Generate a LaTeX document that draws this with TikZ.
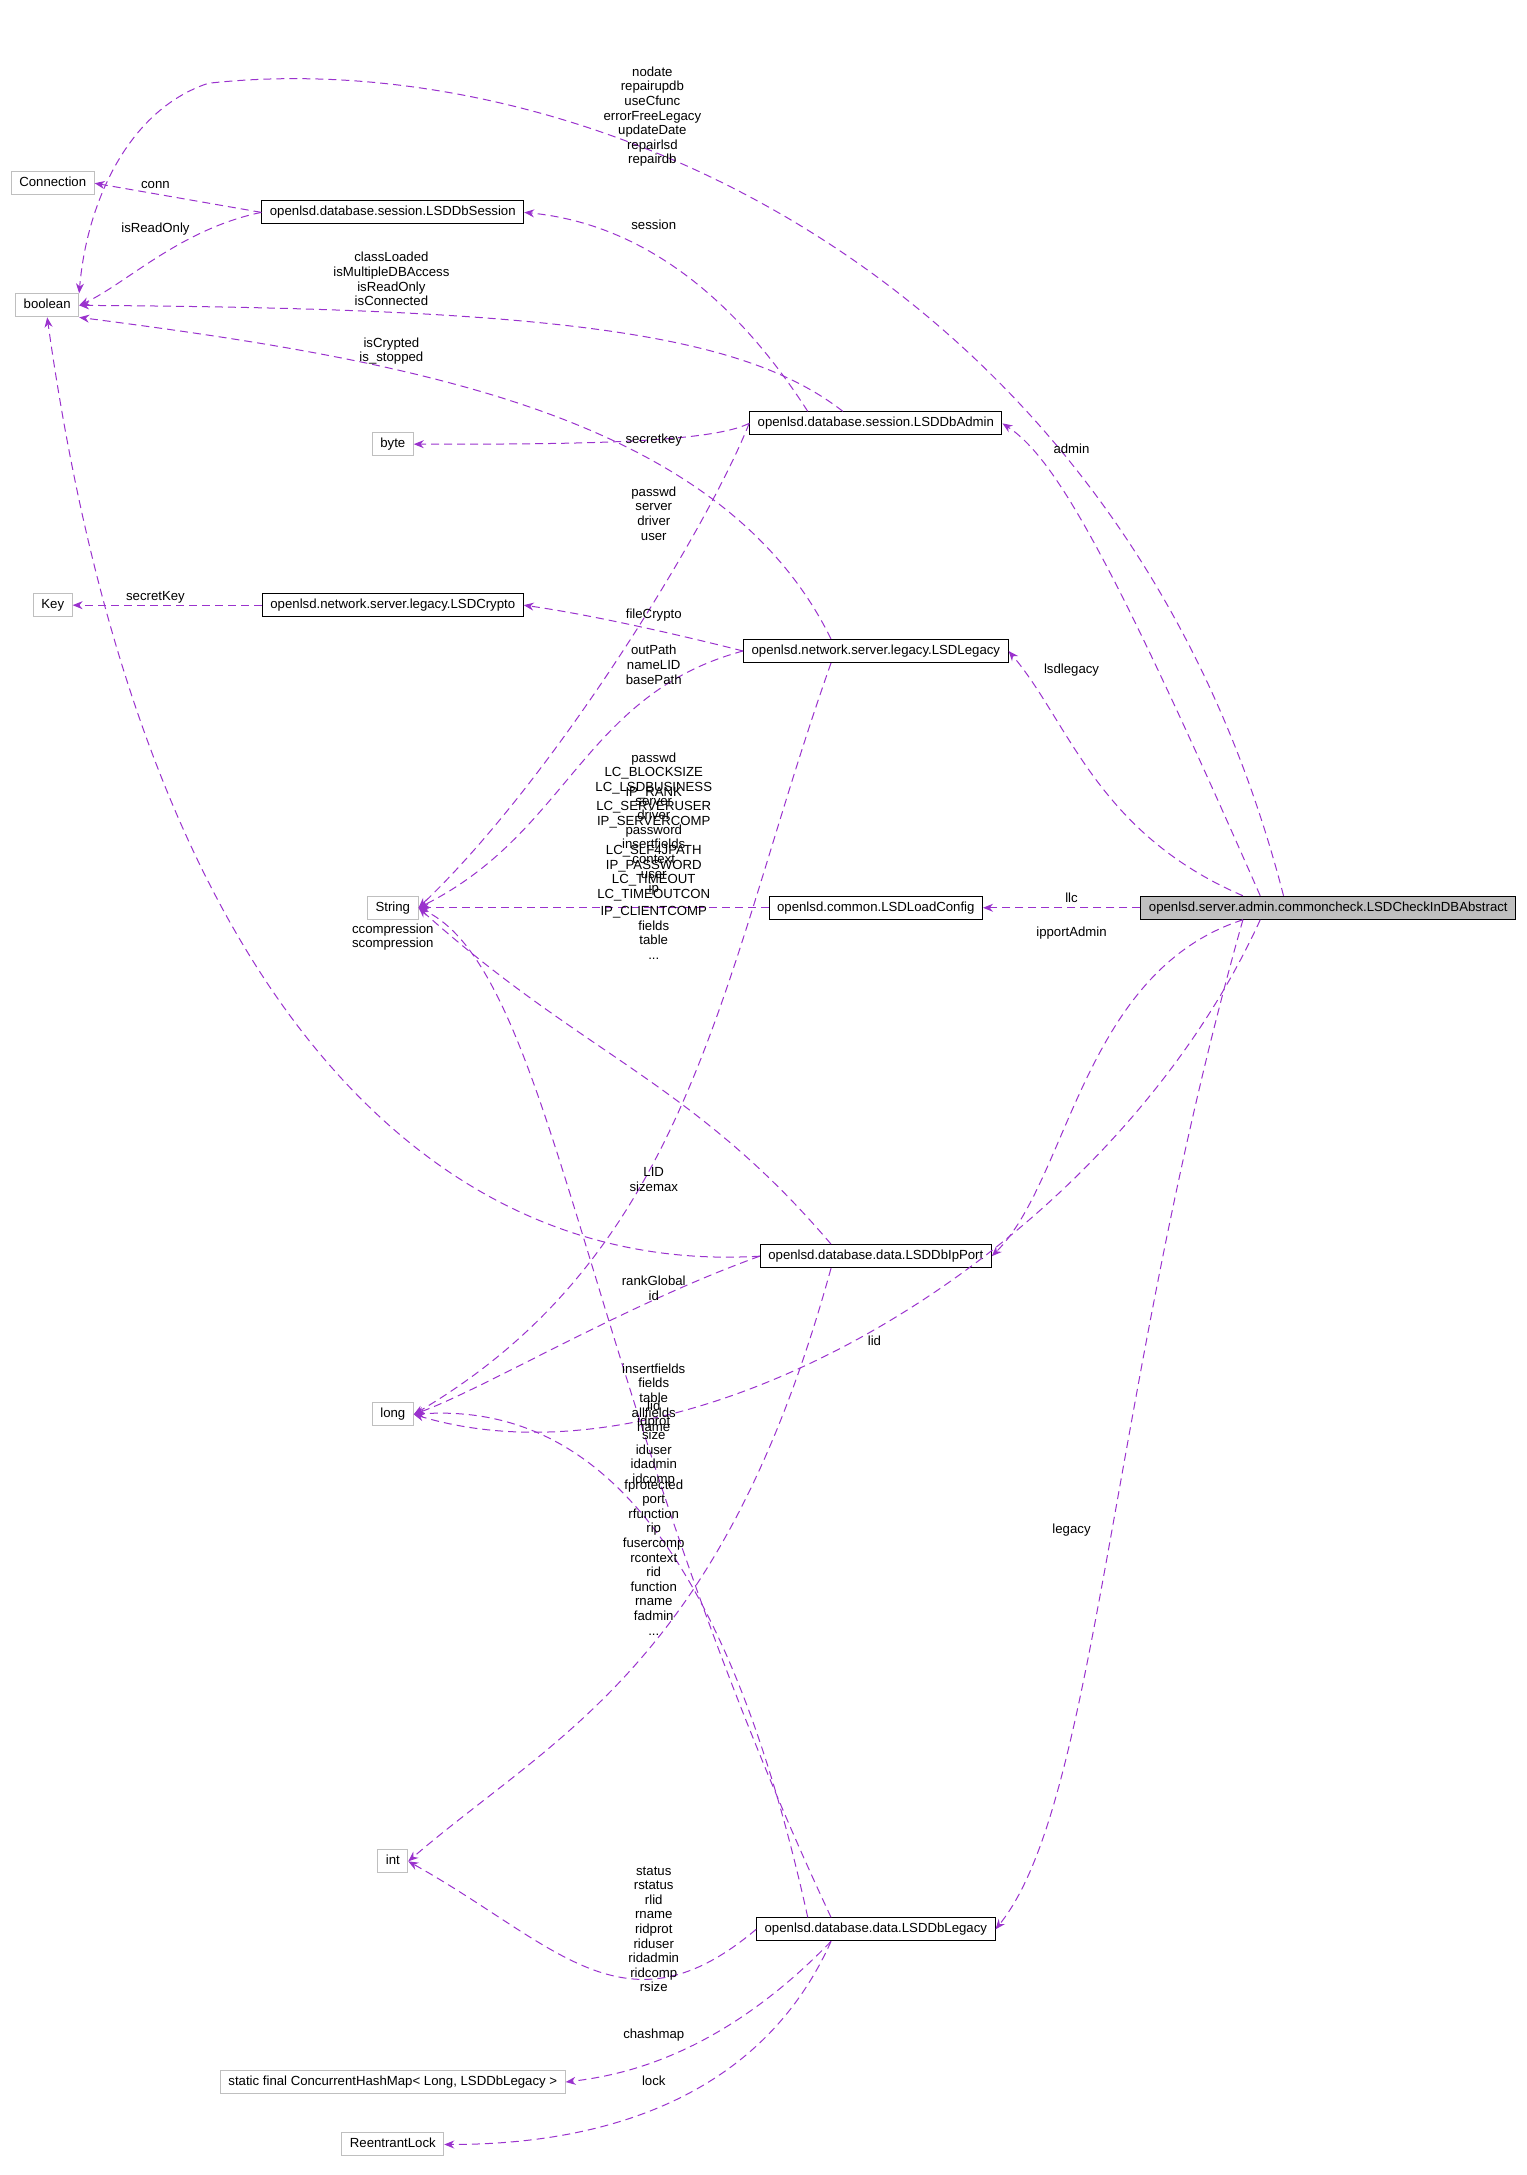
\documentclass[tikz,border=0pt]{standalone}
\usepackage{fontspec}
\setmainfont{Liberation Sans}
\usetikzlibrary{arrows.meta}
\definecolor{edge}{HTML}{9A32CD}
\definecolor{gbox}{HTML}{BFBFBF}
\tikzset{
 cls/.style={draw=black,line width=0.5pt,inner sep=0pt,minimum height=11.5pt,font=\fontsize{6.6}{7.4}\selectfont,text height=5pt,text depth=1.5pt,inner xsep=4pt},
 ext/.style={cls,draw=gbox},
 dep/.style={draw=edge,line width=0.5pt,dash pattern=on 4pt off 2.5pt,-{Stealth[length=5pt,width=4pt]}},
 lab/.style={align=center,font=\fontsize{6.6}{7.3}\selectfont,inner sep=0pt}
}
\begin{document}
\begin{tikzpicture}[x=0.694pt,y=-0.694pt]
\useasboundingbox (0,0) rectangle (1100,1567);
\node[ext] (conn) at (38,132) {Connection};
\node[ext] (bool) at (34,220) {boolean};
\node[cls] (sess) at (283,153) {openlsd.database.session.LSDDbSession};
\node[cls] (admin) at (631,305) {openlsd.database.session.LSDDbAdmin};
\node[ext] (byte) at (283,320) {byte};
\node[ext] (key) at (38,436) {Key};
\node[cls] (crypto) at (283,436) {openlsd.network.server.legacy.LSDCrypto};
\node[cls] (leg) at (631,469) {openlsd.network.server.legacy.LSDLegacy};
\node[ext] (str) at (283,654) {String};
\node[cls] (lc) at (631,654) {openlsd.common.LSDLoadConfig};
\node[cls,fill=gbox] (chk) at (957,654) {openlsd.server.admin.commoncheck.LSDCheckInDBAbstract};
\node[cls] (ip) at (631,905) {openlsd.database.data.LSDDbIpPort};
\node[ext] (long) at (283,1019) {long};
\node[ext] (int) at (283,1341) {int};
\node[cls] (dbl) at (631,1390) {openlsd.database.data.LSDDbLegacy};
\node[ext] (chm) at (283,1500) {static final ConcurrentHashMap< Long, LSDDbLegacy >};
\node[ext] (lock) at (283,1545) {ReentrantLock};

\draw[dep] (chk.165) .. controls (810,200) and (420,30) .. (150,60) .. controls (90,80) and (62,150) .. (bool.north east);
\draw[dep] (sess.west) -- (conn.east);
\draw[dep] (sess.west) .. controls (130,165) and (90,205) .. (bool.east);
\draw[dep] (admin.170) .. controls (520,200) and (450,160) .. (sess.east);
\draw[dep] (admin.160) .. controls (535,240) and (400,222) .. (bool.east);
\draw[dep] (leg.165) .. controls (520,300) and (300,260) .. (bool.south east);
\draw[dep] (admin.west) .. controls (510,320) and (400,320) .. (byte.east);
\draw[dep] (chk.170) .. controls (800,400) and (760,330) .. (admin.east);
\draw[dep] (admin.west) .. controls (510,380) and (400,560) .. (str.east);
\draw[dep] (crypto.west) -- (key.east);
\draw[dep] (leg.west) .. controls (480,455) and (420,442) .. (crypto.east);
\draw[dep] (leg.west) .. controls (420,500) and (410,600) .. (str.east);
\draw[dep] (chk.172) .. controls (790,600) and (770,520) .. (leg.east);
\draw[dep] (lc.west) -- (str.east);
\draw[dep] (chk.west) -- (lc.east);
\draw[dep] (chk.188) .. controls (780,700) and (770,850) .. (ip.east);
\draw[dep] (ip.west) .. controls (300,920) and (100,700) .. (bool.south);
\draw[dep] (leg.195) .. controls (520,700) and (500,900) .. (long.east);
\draw[dep] (ip.west) .. controls (450,940) and (350,1000) .. (long.east);
\draw[dep] (ip.165) .. controls (500,780) and (420,760) .. (str.east);
\draw[dep] (chk.190) .. controls (800,900) and (500,1080) .. (long.east);
\draw[dep] (dbl.170) .. controls (520,1100) and (420,1010) .. (long.east);
\draw[dep] (dbl.165) .. controls (420,1000) and (400,700) .. (str.east);
\draw[dep] (chk.188) .. controls (800,1000) and (790,1300) .. (dbl.east);
\draw[dep] (dbl.west) .. controls (450,1470) and (400,1400) .. (int.east);
\draw[dep] (ip.195) .. controls (520,1200) and (400,1250) .. (int.east);
\draw[dep] (dbl.195) .. controls (520,1480) and (450,1495) .. (chm.east);
\draw[dep] (dbl.195) .. controls (540,1530) and (400,1545) .. (lock.east);

\node[lab] (l1) at (470,84) {nodate\\repairupdb\\useCfunc\\errorFreeLegacy\\updateDate\\repairlsd\\repairdb};
\node[lab] (l2) at (112,133) {conn};
\node[lab] (l3) at (112,165) {isReadOnly};
\node[lab] (l4) at (471,162) {session};
\node[lab] (l5) at (282,201) {classLoaded\\isMultipleDBAccess\\isReadOnly\\isConnected};
\node[lab] (l6) at (282,253) {isCrypted\\is\_stopped};
\node[lab] (l7) at (471,317) {secretkey};
\node[lab] (l8) at (772,323) {admin};
\node[lab] (l9) at (471,370) {passwd\\server\\driver\\user};
\node[lab] (l10) at (112,430) {secretKey};
\node[lab] (l11) at (471,443) {fileCrypto};
\node[lab] (l12) at (471,479) {outPath\\nameLID\\basePath};
\node[lab] (l13) at (772,483) {lsdlegacy};
\node[lab] (l14) at (471,557) {passwd\\LC\_BLOCKSIZE\\LC\_LSDBUSINESS};
\node[lab] (l15) at (471,610) {server\\driver\\password\\insertfields\\context\\user\\ip};
\node[lab] (l16) at (471,608) {IP\_RANK\\LC\_SERVERUSER\\IP\_SERVERCOMP\\\\LC\_SLF4JPATH\\IP\_PASSWORD\\LC\_TIMEOUT\\LC\_TIMEOUTCON};
\node[lab] (l17) at (471,672) {IP\_CLIENTCOMP\\fields\\table\\...};
\node[lab] (l18) at (283,675) {ccompression\\scompression};
\node[lab] (l19) at (772,647) {llc};
\node[lab] (l20) at (772,672) {ipportAdmin};
\node[lab] (l21) at (471,850) {LID\\sizemax};
\node[lab] (l22) at (471,928) {rankGlobal\\id};
\node[lab] (l23) at (630,966) {lid};
\node[lab] (l24) at (471,1007) {insertfields\\fields\\table\\allfields\\name};
\node[lab] (l25) at (471,1040) {lid\\idprot\\size\\iduser\\idadmin\\idcomp};
\node[lab] (l26) at (471,1122) {fprotected\\port\\rfunction\\rip\\fusercomp\\rcontext\\rid\\function\\rname\\fadmin\\...};
\node[lab] (l27) at (772,1102) {legacy};
\node[lab] (l28) at (471,1390) {status\\rstatus\\rlid\\rname\\ridprot\\riduser\\ridadmin\\ridcomp\\rsize};
\node[lab] (l29) at (471,1466) {chashmap};
\node[lab] (l30) at (471,1499) {lock};
\end{tikzpicture}
\end{document}
